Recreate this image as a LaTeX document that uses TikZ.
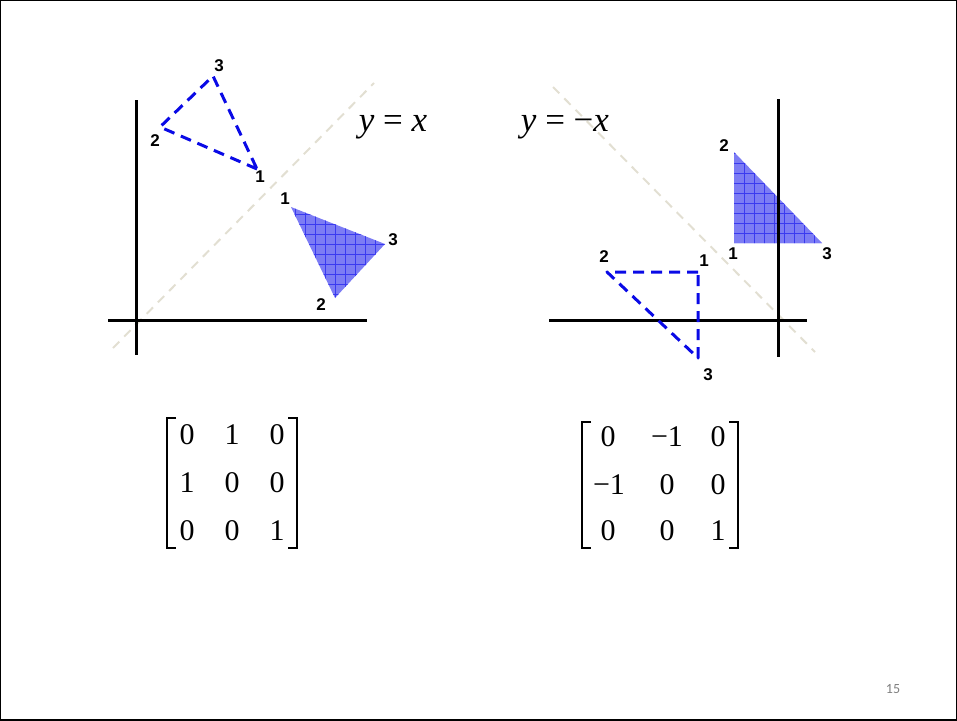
\documentclass[tikz,border=0pt]{standalone}
\usepackage{fontspec}
\setmainfont{Liberation Serif}
\newfontfamily\labfont{Liberation Sans}
\newfontfamily\pgfont{Carlito}
\definecolor{fillblue}{HTML}{7C7CF4}
\definecolor{gridblue}{HTML}{3A3AF0}
\definecolor{dashblue}{HTML}{0A0AE6}
\definecolor{mirror}{HTML}{E2DFD2}
\begin{document}
\begin{tikzpicture}[x=1pt,y=-1pt,
  axis/.style={line width=3pt,black},
  mirrorline/.style={line width=2pt,mirror,dash pattern=on 9pt off 7pt},
  dashtri/.style={line width=3pt,dashblue,dash pattern=on 11pt off 7pt,line join=round},
  gridline/.style={gridblue,line width=0.8pt},
  vlab/.style={font=\labfont\bfseries\fontsize{17}{17}\selectfont,inner sep=0pt},
  eqn/.style={font=\fontsize{35}{35}\selectfont,inner sep=0pt},
  ment/.style={font=\fontsize{30}{30}\selectfont,inner sep=0pt},
  brk/.style={line width=1.4pt,black}]
\useasboundingbox (0,0) rectangle (957,720);
\draw[line width=2.5pt] (0,0) rectangle (957,720);

% ---------- left diagram ----------
\coordinate (Lm1) at (113,348);
\coordinate (Lm2) at (374,83);
\draw[mirrorline] (Lm1) -- (Lm2);
\coordinate (Lyt) at (136,100);
\coordinate (Lyb) at (136,355);
\coordinate (Lxl) at (108,320);
\coordinate (Lxr) at (367,320);
\draw[axis] (Lyt) -- (Lyb);
\draw[axis] (Lxl) -- (Lxr);

% dashed triangle
\coordinate (LD1) at (257,169);
\coordinate (LD2) at (160,127);
\coordinate (LD3) at (213,76);
\draw[dashtri] (LD1) -- (LD2) -- (LD3) -- cycle;
\node[vlab] (lLD1) at (260,177) {1};
\node[vlab] (lLD2) at (155,141) {2};
\node[vlab] (lLD3) at (219,66) {3};

% filled triangle
\coordinate (LF1) at (291,207);
\coordinate (LF2) at (335,298);
\coordinate (LF3) at (385,244);
\begin{scope}
  \clip (LF1) -- (LF2) -- (LF3) -- cycle;
  \fill[fillblue] (280,200) rectangle (390,300);
  \foreach \gx in {285,295,...,385} \draw[gridline] (\gx,200) -- (\gx,300);
  \foreach \gy in {204,214,...,300} \draw[gridline] (280,\gy) -- (390,\gy);
\end{scope}
\node[vlab] (lLF1) at (285,199) {1};
\node[vlab] (lLF2) at (321,305) {2};
\node[vlab] (lLF3) at (393,240) {3};

\node[eqn] (eqL) at (393,127) {{\itshape y} = {\itshape x}};

% ---------- right diagram ----------
\coordinate (Rm1) at (553,87);
\coordinate (Rm2) at (815,352);
\draw[mirrorline] (Rm1) -- (Rm2);
\coordinate (Ryt) at (778,99);
\coordinate (Ryb) at (778,357);
\coordinate (Rxl) at (549,320);
\coordinate (Rxr) at (807,320);

% filled triangle
\coordinate (RF1) at (734,243);
\coordinate (RF2) at (734,152);
\coordinate (RF3) at (822,243);
\begin{scope}
  \clip (RF1) -- (RF2) -- (RF3) -- cycle;
  \fill[fillblue] (730,150) rectangle (825,245);
  \foreach \gx in {744,754,...,824} \draw[gridline] (\gx,150) -- (\gx,245);
  \foreach \gy in {153,163,...,243} \draw[gridline] (730,\gy) -- (825,\gy);
\end{scope}
\draw[axis] (Ryt) -- (Ryb);
\draw[axis] (Rxl) -- (Rxr);
\node[vlab] (lRF1) at (733,254) {1};
\node[vlab] (lRF2) at (724,146) {2};
\node[vlab] (lRF3) at (827,254) {3};

% dashed triangle
\coordinate (RD1) at (698,272);
\coordinate (RD2) at (607,272);
\coordinate (RD3) at (698,358);
\draw[dashtri] (RD1) -- (RD2) -- (RD3) -- cycle;
\node[vlab] (lRD1) at (704,261) {1};
\node[vlab] (lRD2) at (604,257) {2};
\node[vlab] (lRD3) at (708,375) {3};

\node[eqn] (eqR) at (565,127) {{\itshape y} = −{\itshape x}};

% ---------- left matrix ----------
\draw[brk] (176,418) -- (167,418) -- (167,548) -- (176,548);
\draw[brk] (288,418) -- (297,418) -- (297,548) -- (288,548);
\node[ment] (a11) at (187,435) {0};
\node[ment] (a12) at (232,435) {1};
\node[ment] (a13) at (277,435) {0};
\node[ment] (a21) at (187,483) {1};
\node[ment] (a22) at (232,483) {0};
\node[ment] (a23) at (277,483) {0};
\node[ment] (a31) at (187,531) {0};
\node[ment] (a32) at (232,531) {0};
\node[ment] (a33) at (277,531) {1};

% ---------- right matrix ----------
\draw[brk] (591,422) -- (582,422) -- (582,548) -- (591,548);
\draw[brk] (729,422) -- (738,422) -- (738,548) -- (729,548);
\node[ment] (b11) at (608,437) {0};
\node[ment] (b12) at (667,437) {−1};
\node[ment] (b13) at (718,437) {0};
\node[ment] (b21) at (609,485) {−1};
\node[ment] (b22) at (667,485) {0};
\node[ment] (b23) at (718,485) {0};
\node[ment] (b31) at (608,531) {0};
\node[ment] (b32) at (667,531) {0};
\node[ment] (b33) at (718,531) {1};

\node[font=\pgfont\fontsize{14}{14}\selectfont,text=gray,inner sep=0pt] (pg) at (893,689) {15};
\end{tikzpicture}
\end{document}
